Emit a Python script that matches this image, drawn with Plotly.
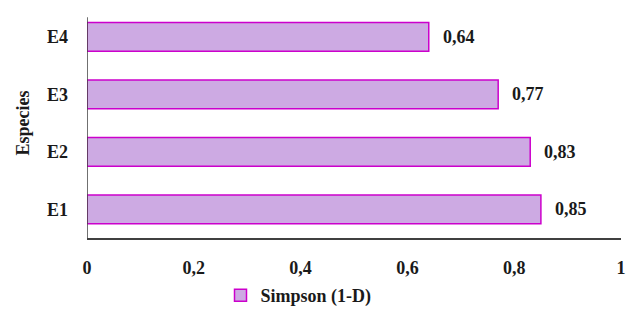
import plotly.graph_objects as go

categories = ["E1", "E2", "E3", "E4"]
values = [0.85, 0.83, 0.77, 0.64]
value_labels = ["0,85", "0,83", "0,77", "0,64"]
tick_vals = [0, 0.2, 0.4, 0.6, 0.8, 1]
tick_text = ["0", "0,2", "0,4", "0,6", "0,8", "1"]
series_name = "Simpson (1-D)"

FONT = "Liberation Serif"
FS = 18

fig = go.Figure()
fig.add_trace(go.Bar(
    y=categories, x=values, orientation="h", name="<b>%s</b>" % series_name,
    marker=dict(color="#CDAAE3", line=dict(color="#CC00CC", width=1.5)),
    showlegend=True,
))

for c, v, t in zip(categories, values, value_labels):
    fig.add_annotation(x=v, y=c, text="<b>%s</b>" % t, showarrow=False,
                       xanchor="left", xshift=12,
                       font=dict(family=FONT, size=FS, color="#1a1a1a"))

fig.add_shape(type="line", xref="x", yref="paper", x0=0, x1=0, y0=0, y1=0.96,
              line=dict(color="#404040", width=1.5))

fig.update_layout(
    width=626, height=324,
    margin=dict(l=87, r=5, t=8, b=86),
    paper_bgcolor="white", plot_bgcolor="white",
    bargap=0.5,
    font=dict(family=FONT, size=FS, color="#1a1a1a"),
    legend=dict(orientation="h", x=0.25, y=-0.25, xanchor="left", yanchor="middle",
                font=dict(family=FONT, size=FS, color="#1a1a1a"),
                itemwidth=30),
    xaxis=dict(range=[0, 1], tickvals=tick_vals, ticktext=["<b>%s</b>" % t for t in tick_text],
               showgrid=False, zeroline=False, showline=True, linecolor="#404040", linewidth=1.5,
               ticks="", ticklabelstandoff=13, automargin=False),
    yaxis=dict(categoryorder="array", categoryarray=categories, range=[-0.5, 3.5],
               showgrid=False, zeroline=False, showline=False, ticks="",
               tickvals=categories, ticktext=["<b>%s</b>" % c for c in categories],
               ticklabelstandoff=18, automargin=False,
               title=dict(text="<b>Especies</b>", standoff=12,
                          font=dict(family=FONT, size=FS, color="#1a1a1a"))),
)

fig.write_html("out.html")
